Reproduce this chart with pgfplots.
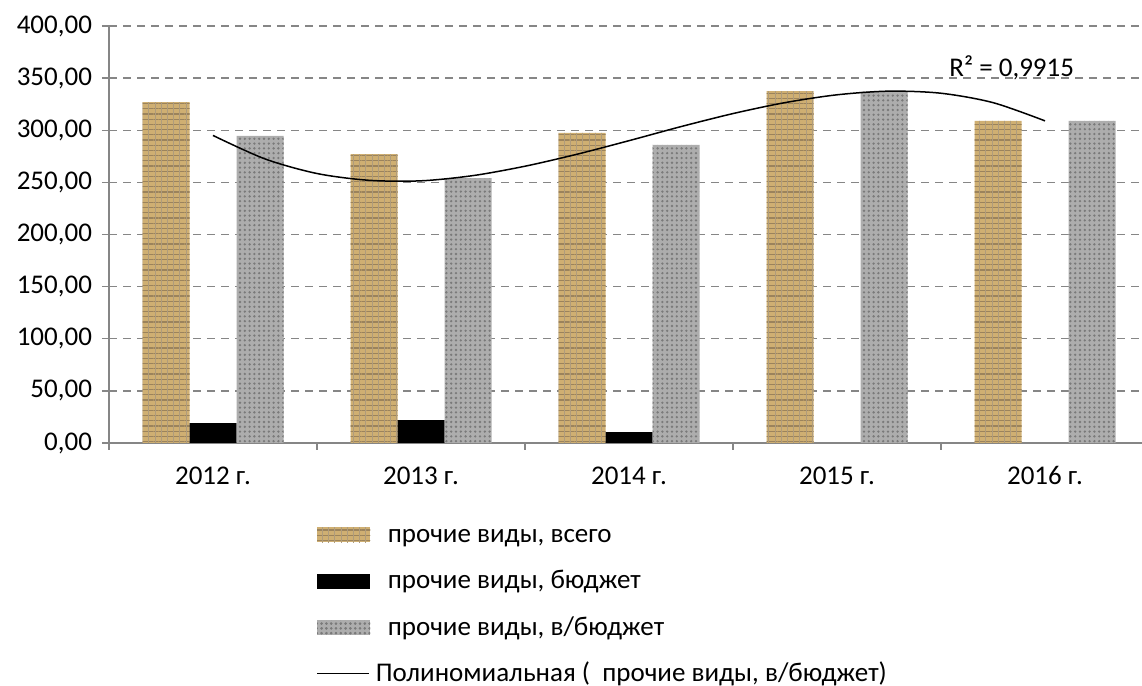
\documentclass[border=0pt]{standalone}
\usepackage{fontspec}
\setmainfont{Carlito}
\usepackage{pgfplots}
\pgfplotsset{compat=1.18}
\usetikzlibrary{patterns.meta}
\definecolor{tanfill}{HTML}{CFAF72}
\definecolor{tanline}{HTML}{7A5A25}
\definecolor{granite}{HTML}{ADADAD}
\definecolor{granitedot}{HTML}{7A7A7A}
\definecolor{axgray}{HTML}{868686}
\tikzset{
  tanstyle/.style={fill=tanfill, draw=none,
    postaction={pattern={Lines[angle=0,distance=2.6pt,line width=0.6pt]}, pattern color=tanline!75},
    postaction={pattern={Lines[angle=90,distance=3.1pt,line width=0.5pt]}, pattern color=tanline!60}},
  granstyle/.style={fill=granite, draw=none,
    postaction={pattern={Dots[distance=2.4pt,radius=0.65pt]}, pattern color=granitedot}},
}
\begin{document}
\begin{tikzpicture}[font=\fontsize{13.5pt}{16pt}\selectfont]
\useasboundingbox (0,0) rectangle (571pt,343pt);
\begin{axis}[
  at={(54.5pt,121.5pt)}, anchor=south west,
  scale only axis, width=520pt, height=208.5pt,
  xmin=-0.5, xmax=4.5, ymin=0, ymax=400,
  ytick={0,50,...,400},
  xtick={-0.5,0.5,1.5,2.5,3.5,4.5},
  xticklabels={},
  extra x ticks={0,1,2,3,4},
  extra x tick labels={2012 г.,2013 г.,2014 г.,2015 г.,2016 г.},
  extra x tick style={major tick length=0pt, grid=none},
  tick align=outside,
  major tick length=3.5pt,
  tick style={axgray, line width=0.75pt},
  axis x line*=bottom, axis y line*=left,
  axis line style={axgray, line width=0.75pt},
  ymajorgrids,
  grid style={axgray, line width=0.75pt, dash pattern=on 4pt off 3pt},
  /pgf/number format/.cd, fixed, fixed zerofill, precision=2, use comma, assume math mode=true,
  /pgfplots/.cd,
  yticklabel style={xshift=-1.5pt, text=black},
  xticklabel style={yshift=-8pt, text=black, text height=9pt, text depth=2pt},
  legend cell align=left,
  legend style={at={(axis description cs:0.199,-0.192)}, anchor=north west,
    draw=none, fill=none, inner sep=0pt, row sep=10.7pt,
    nodes={inner sep=0pt, text height=9.5pt, text depth=3pt}},
]
\addplot[ybar, bar width=23.5pt, bar shift=-23.5pt, tanstyle,
  legend image code/.code={\path[tanstyle] (0pt,-3.25pt) rectangle (26.5pt,4.25pt); \path (35pt,0pt);}]
  coordinates {(0,327) (1,277) (2,297.5) (3,337.5) (4,309)};
\addlegendentry{прочие виды, всего}
\addplot[ybar, bar width=23.5pt, bar shift=0pt, fill=black, draw=none,
  legend image code/.code={\fill[black] (0pt,-3.25pt) rectangle (26.5pt,4.25pt); \path (35pt,0pt);}]
  coordinates {(0,19) (1,22) (2,10.5)};
\addlegendentry{прочие виды, бюджет}
\addplot[ybar, bar width=23.5pt, bar shift=23.5pt, granstyle,
  legend image code/.code={\path[granstyle] (0pt,-3.25pt) rectangle (26.5pt,4.25pt); \path (35pt,0pt);}]
  coordinates {(0,294.5) (1,254) (2,286) (3,337) (4,309)};
\addlegendentry{прочие виды, в/бюджет}
\addplot[black, line width=0.75pt, smooth, mark=none,
  legend image code/.code={\draw[black, line width=0.75pt] (0pt,0.75pt) -- (26pt,0.75pt); \path (35pt,0pt);}]
  coordinates {(0,295) (0.25,272.5) (0.5,258.5) (0.75,252) (1,251.5) (1.25,256.5)
    (1.5,265.5) (1.75,277) (2,290) (2.25,303.5) (2.5,316) (2.75,326.5) (3,334)
    (3.25,337.5) (3.5,335.5) (3.75,326.5) (4,309)};
\addlegendentry{\hspace*{-6pt}Полиномиальная (\ \ прочие виды, в/бюджет)}
\node at (axis cs:3.84,360) {R² = 0,9915};
\end{axis}
\end{tikzpicture}
\end{document}
